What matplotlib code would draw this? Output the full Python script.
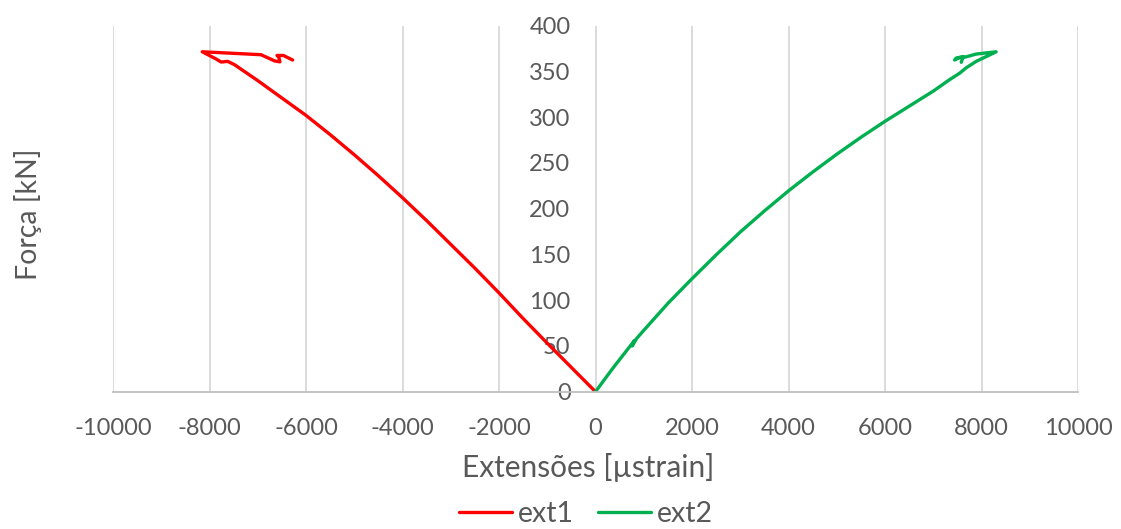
import matplotlib
matplotlib.use("Agg")
import matplotlib.pyplot as plt

plt.rcParams['font.family'] = ['Lato', 'DejaVu Sans']

# Extensometer 1 (compression side): strain [µstrain] vs force [kN]
ext1_strain = [0, -500, -1000, -1500, -2000, -2500, -3000, -3500, -4000, -4500,
               -5000, -5500, -6000, -6500, -7000, -7485, -7623, -7760, -7863,
               -8150, -6933, -6650, -6540, -6560, -6600, -6470, -6277]
ext1_force = [0, 26.5, 53, 80, 108, 135, 161, 187, 212, 236,
              259, 281, 302, 321, 340, 357.5, 361, 360.3, 363.6,
              371.5, 368.3, 361.5, 360.5, 365, 367.5, 367.5, 362.5]

# Extensometer 2 (tension side)
ext2_strain = [0, 350, 705, 809, 760, 850, 1000, 1500, 2000, 2500, 3000, 3500,
               4000, 4500, 5000, 5500, 6000, 6500, 7000, 7338, 7545, 7683,
               7890, 8304, 7890, 7683, 7477, 7442, 7550, 7620, 7580]
ext2_force = [0, 25, 49, 56, 50, 58, 67, 96.5, 123.5, 149.5, 174.5, 197.5,
              219.5, 240, 259.5, 278, 295.5, 312, 328.5, 341, 348, 354,
              361, 371.5, 369, 366, 364.7, 362.5, 365.5, 366, 360]

x_ticks = list(range(-10000, 10001, 2000))
y_ticks = list(range(0, 401, 50))

text_color = '#595959'

fig = plt.figure(figsize=(11.21, 5.29), dpi=100)
ax = fig.add_axes([113 / 1121, 1 - 391.7 / 529, (1078 - 113) / 1121, 366 / 529])

ax.plot(ext1_strain, ext1_force, color='#FF0000', lw=2.4, label='ext1',
        solid_joinstyle='round', solid_capstyle='round')
ax.plot(ext2_strain, ext2_force, color='#00B050', lw=2.4, label='ext2',
        solid_joinstyle='round', solid_capstyle='round')

ax.set_xlim(-10000, 10000)
ax.set_ylim(0, 400)
ax.set_xticks(x_ticks)
ax.set_yticks(y_ticks)
ax.set_xticklabels([str(v) for v in x_ticks])
ax.set_yticklabels([str(v) for v in y_ticks])

ax.grid(axis='x', color='#D9D9D9', lw=1.3)
ax.set_axisbelow(True)

for side in ('top', 'right'):
    ax.spines[side].set_visible(False)
ax.spines['left'].set_position(('data', 0))
ax.spines['left'].set_visible(False)
ax.spines['bottom'].set_color('#BFBFBF')
ax.spines['bottom'].set_linewidth(1.3)

ax.tick_params(axis='both', length=0, labelsize=17, colors=text_color)
ax.tick_params(axis='x', pad=19)
ax.tick_params(axis='y', pad=18)

fig.text(28 / 1121, 1 - 214 / 529, 'Força [kN]', rotation=90, ha='center',
         va='center', fontsize=20.5, color=text_color)
fig.text(588 / 1121, 1 - 468 / 529, 'Extensões [µstrain]', ha='center',
         va='center', fontsize=21.5, color=text_color)

fig.legend(loc='center', bbox_to_anchor=(586 / 1121, 1 - 514 / 529), ncol=2,
           frameon=False, fontsize=20.5, handlelength=1.85, handletextpad=0.2,
           columnspacing=0.85, labelcolor=text_color)

fig.savefig('out.png', dpi=100)
